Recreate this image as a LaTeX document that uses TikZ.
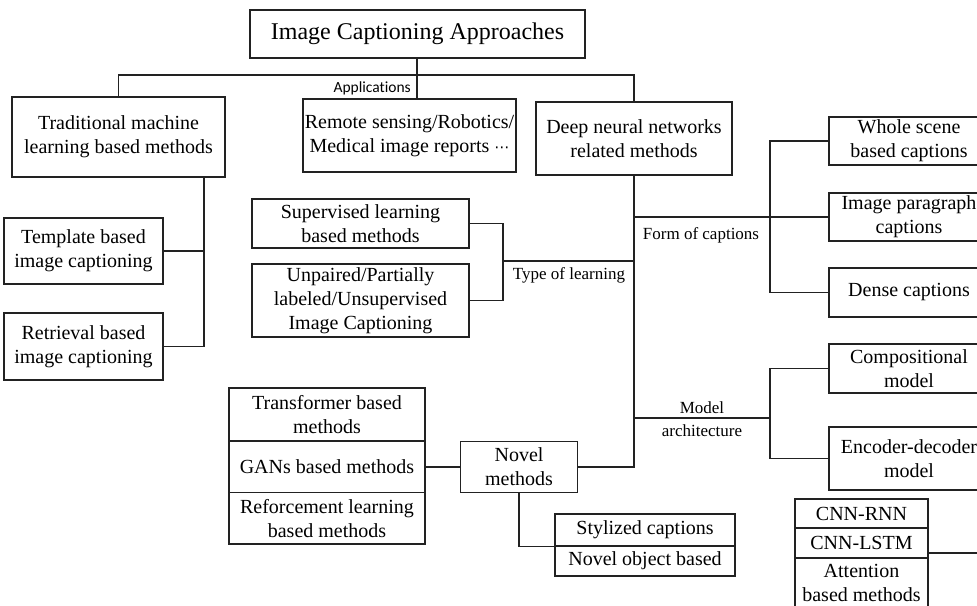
\documentclass[tikz,border=0pt]{standalone}
\usepackage{fontspec}
\setmainfont{Liberation Serif}
\newfontfamily\labelsans[Ligatures=NoCommon]{Carlito}
\newfontfamily\dotsfont{DejaVu Sans}
\definecolor{linegray}{HTML}{222222}
\begin{document}
\begin{tikzpicture}[x=1pt,y=-1pt,
  line/.style={draw=linegray, line width=1.4pt},
  box/.style={draw=linegray, line width=1.4pt, align=center, inner sep=0pt,
              font=\fontsize{20}{24}\selectfont, text=black},
  tag/.style={inner sep=0pt, align=center, font=\fontsize{17}{20}\selectfont, text=black}]
\useasboundingbox (0,0) rectangle (977,605);
\clip (0,0) rectangle (977,605);

% root and first level
\node[box, minimum width=335pt, minimum height=48pt, font=\fontsize{24}{28}\selectfont]
  (title) at (417.5,34) {Image Captioning Approaches};
\node[box, minimum width=213pt, minimum height=80pt] (trad) at (118.5,137)
  {Traditional machine\\learning based methods};
\node[box, minimum width=213pt, minimum height=73pt] (app) at (409.5,135.5)
  {Remote sensing/Robotics/\\Medical image reports {\dotsfont\fontsize{15}{15}\selectfont ⋯}};
\node[box, minimum width=196pt, minimum height=73pt] (dnn) at (634,138.5)
  {Deep neural networks\\related methods};

% traditional branch
\node[box, minimum width=159pt, minimum height=66pt] (template) at (83.5,251)
  {Template based\\image captioning};
\node[box, minimum width=159pt, minimum height=67pt] (retrieval) at (83.5,346.5)
  {Retrieval based\\image captioning};

% type of learning
\node[box, minimum width=217pt, minimum height=49pt] (supervised) at (360.5,223.5)
  {Supervised learning\\based methods};
\node[box, minimum width=217pt, minimum height=73pt] (unpaired) at (360.5,300.5)
  {Unpaired/Partially\\labeled/Unsupervised\\Image Captioning};

% form of captions
\node[box, minimum width=160pt, minimum height=48pt] (whole) at (909,141)
  {Whole scene\\based captions};
\node[box, minimum width=160pt, minimum height=48pt] (paragraph) at (909,217)
  {Image paragraph\\captions};
\node[box, minimum width=160pt, minimum height=49pt] (dense) at (909,292.5)
  {Dense captions};

% model architecture
\node[box, minimum width=160pt, minimum height=49pt] (compositional) at (909,368.5)
  {Compositional\\model};
\node[box, minimum width=160pt, minimum height=63pt] (encoder) at (909,458.5)
  {Encoder-decoder\\model};
\node[box, minimum width=133pt, minimum height=29pt] (cnnrnn) at (861.5,513.5) {CNN-RNN};
\node[box, minimum width=133pt, minimum height=30pt] (cnnlstm) at (861.5,543) {CNN-LSTM};
\node[box, minimum width=133pt, minimum height=49pt] (attention) at (861.5,582.5)
  {Attention\\based methods};

% novel methods
\node[box, minimum width=196pt, minimum height=53pt] (transformer) at (327,414.5)
  {Transformer based\\methods};
\node[box, minimum width=196pt, minimum height=51.5pt] (gans) at (327,467)
  {GANs based methods};
\node[box, minimum width=196pt, minimum height=51.5pt] (reinforce) at (327,518.25)
  {Reforcement learning\\based methods};
\node[box, minimum width=116.5pt, minimum height=51.5pt] (novel) at (519,467)
  {Novel\\methods};
\node[box, minimum width=180pt, minimum height=32pt] (stylized) at (645,530)
  {Stylized captions};
\node[box, minimum width=180pt, minimum height=30pt] (novelobj) at (645,561)
  {Novel object based};

% junction points
\coordinate (jt) at (417,75);
\coordinate (tv) at (204,177);
\coordinate (tl) at (503,261);
\coordinate (fc) at (770,217);
\coordinate (ma) at (770,418);
\coordinate (cnnend) at (990,553);

% connectors
\draw[line] (title.south -| jt) -- (jt);
\draw[line] (trad.north) |- (jt) -| (dnn.north);
\draw[line] (jt) -- (app.north -| jt);

\draw[line] (trad.south -| tv) |- (retrieval.east);
\draw[line] (template.east) -- (template.east -| tv);

\draw[line] (supervised.east) -| (tl) |- (unpaired.east);
\draw[line] (tl) -- (tl -| dnn.south);

\draw[line] (dnn.south) |- (novel.east);

\draw[line] (fc -| dnn.south) -- (fc);
\draw[line] (whole.west) -| (fc) |- (dense.west);
\draw[line] (fc) -- (paragraph.west);

\draw[line] (ma -| dnn.south) -- (ma);
\draw[line] (compositional.west) -| (ma) |- (encoder.west);

\draw[line] (cnnend -| cnnlstm.east) -- (cnnend);

\draw[line] (gans.east) -- (novel.west);
\draw[line] (novel.south) |- (stylized.south west);

% branch labels
\node[anchor=east, inner sep=0pt, font=\labelsans\fontsize{15.5}{17}\selectfont] (applbl) at (411,88) {Applications};
\node[tag] (tllbl) at (569,275) {Type of learning};
\node[tag] (fclbl) at (701,235) {Form of captions};
\node[tag] (malbl1) at (702,408) {Model};
\node[tag] (malbl2) at (702,431) {architecture};
\end{tikzpicture}
\end{document}
